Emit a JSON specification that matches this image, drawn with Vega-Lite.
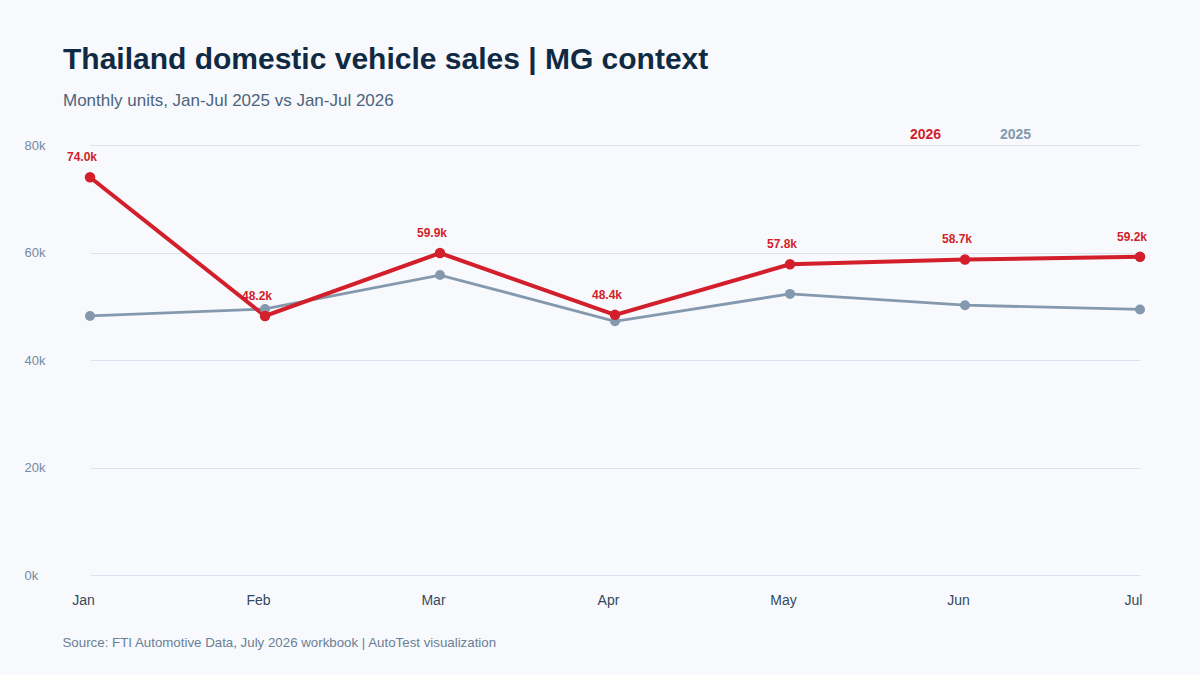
{
  "$schema": "https://vega.github.io/schema/vega-lite/v6.json",
  "width": 1050,
  "height": 430,
  "autosize": "none",
  "padding": {"left": 90, "top": 145, "right": 60, "bottom": 100},
  "background": "#f7f9fc",
  "config": {
    "font": "Liberation Sans",
    "view": {"stroke": null}
  },
  "title": {
    "text": "Thailand domestic vehicle sales | MG context",
    "subtitle": "Monthly units, Jan-Jul 2025 vs Jan-Jul 2026",
    "anchor": "start",
    "frame": "group",
    "dx": -27,
    "offset": 18,
    "fontSize": 30,
    "fontWeight": "bold",
    "color": "#102a43",
    "subtitleFontSize": 17,
    "subtitleColor": "#4d647c",
    "subtitlePadding": 18
  },
  "data": {
    "values": [
      {"month": "Jan", "year": "2025", "units": 48200},
      {"month": "Feb", "year": "2025", "units": 49500},
      {"month": "Mar", "year": "2025", "units": 55800},
      {"month": "Apr", "year": "2025", "units": 47200},
      {"month": "May", "year": "2025", "units": 52300},
      {"month": "Jun", "year": "2025", "units": 50200},
      {"month": "Jul", "year": "2025", "units": 49400},
      {"month": "Jan", "year": "2026", "units": 74000},
      {"month": "Feb", "year": "2026", "units": 48200},
      {"month": "Mar", "year": "2026", "units": 59900},
      {"month": "Apr", "year": "2026", "units": 48400},
      {"month": "May", "year": "2026", "units": 57800},
      {"month": "Jun", "year": "2026", "units": 58700},
      {"month": "Jul", "year": "2026", "units": 59200}
    ]
  },
  "encoding": {
    "x": {
      "field": "month",
      "type": "ordinal",
      "sort": ["Jan", "Feb", "Mar", "Apr", "May", "Jun", "Jul"],
      "scale": {"type": "point", "padding": 0},
      "title": "Source: FTI Automotive Data, July 2026 workbook | AutoTest visualization",
      "axis": {
        "labelAngle": 0,
        "labelFontSize": 14,
        "labelColor": "#34495e",
        "labelPadding": 18,
        "labelOffset": -7,
        "domain": false,
        "ticks": false,
        "grid": false,
        "titleFontSize": 13.3,
        "titleFontWeight": "normal",
        "titleColor": "#6a7f96",
        "titleAnchor": "start",
        "titleAlign": "left",
        "titleBaseline": "alphabetic",
        "titleX": -28,
        "titleY": 71
      }
    },
    "y": {
      "field": "units",
      "type": "quantitative",
      "scale": {"domain": [0, 80000]},
      "title": null,
      "axis": {
        "values": [0, 20000, 40000, 60000, 80000],
        "labelExpr": "datum.value / 1000 + 'k'",
        "labelAlign": "left",
        "labelPadding": 66,
        "labelFontSize": 13,
        "labelColor": "#768aa1",
        "domain": false,
        "ticks": false,
        "gridColor": "#dde3ee",
        "gridWidth": 1
      }
    }
  },
  "layer": [
    {
      "mark": {"type": "line"},
      "encoding": {
        "color": {
          "field": "year",
          "type": "nominal",
          "scale": {"domain": ["2026", "2025"], "range": ["#d21f2b", "#8499ae"]},
          "legend": {
            "title": null,
            "orient": "none",
            "direction": "horizontal",
            "legendX": 805,
            "legendY": -18,
            "symbolSize": 0,
            "symbolStrokeWidth": 0,
            "symbolOpacity": 0,
            "labelOffset": 0,
            "columnPadding": 44,
            "labelFontSize": 14,
            "labelFontWeight": "bold",
            "encode": {
              "labels": {"update": {"fill": {"scale": "color", "field": "value"}}}
            }
          }
        },
        "strokeWidth": {
          "field": "year",
          "type": "nominal",
          "scale": {"domain": ["2026", "2025"], "range": [4, 2.8]},
          "legend": null
        }
      }
    },
    {
      "mark": {"type": "point", "filled": true, "opacity": 1},
      "encoding": {
        "color": {"field": "year", "type": "nominal"},
        "size": {
          "field": "year",
          "type": "nominal",
          "scale": {"domain": ["2026", "2025"], "range": [110, 100]},
          "legend": null
        }
      }
    },
    {
      "transform": [{"filter": "datum.year == '2026'"}],
      "mark": {
        "type": "text",
        "dy": -20,
        "dx": -8,
        "fontSize": 12,
        "fontWeight": "bold",
        "color": "#d21f2b"
      },
      "encoding": {
        "text": {"field": "units", "type": "quantitative", "format": ".3s"}
      }
    }
  ]
}
